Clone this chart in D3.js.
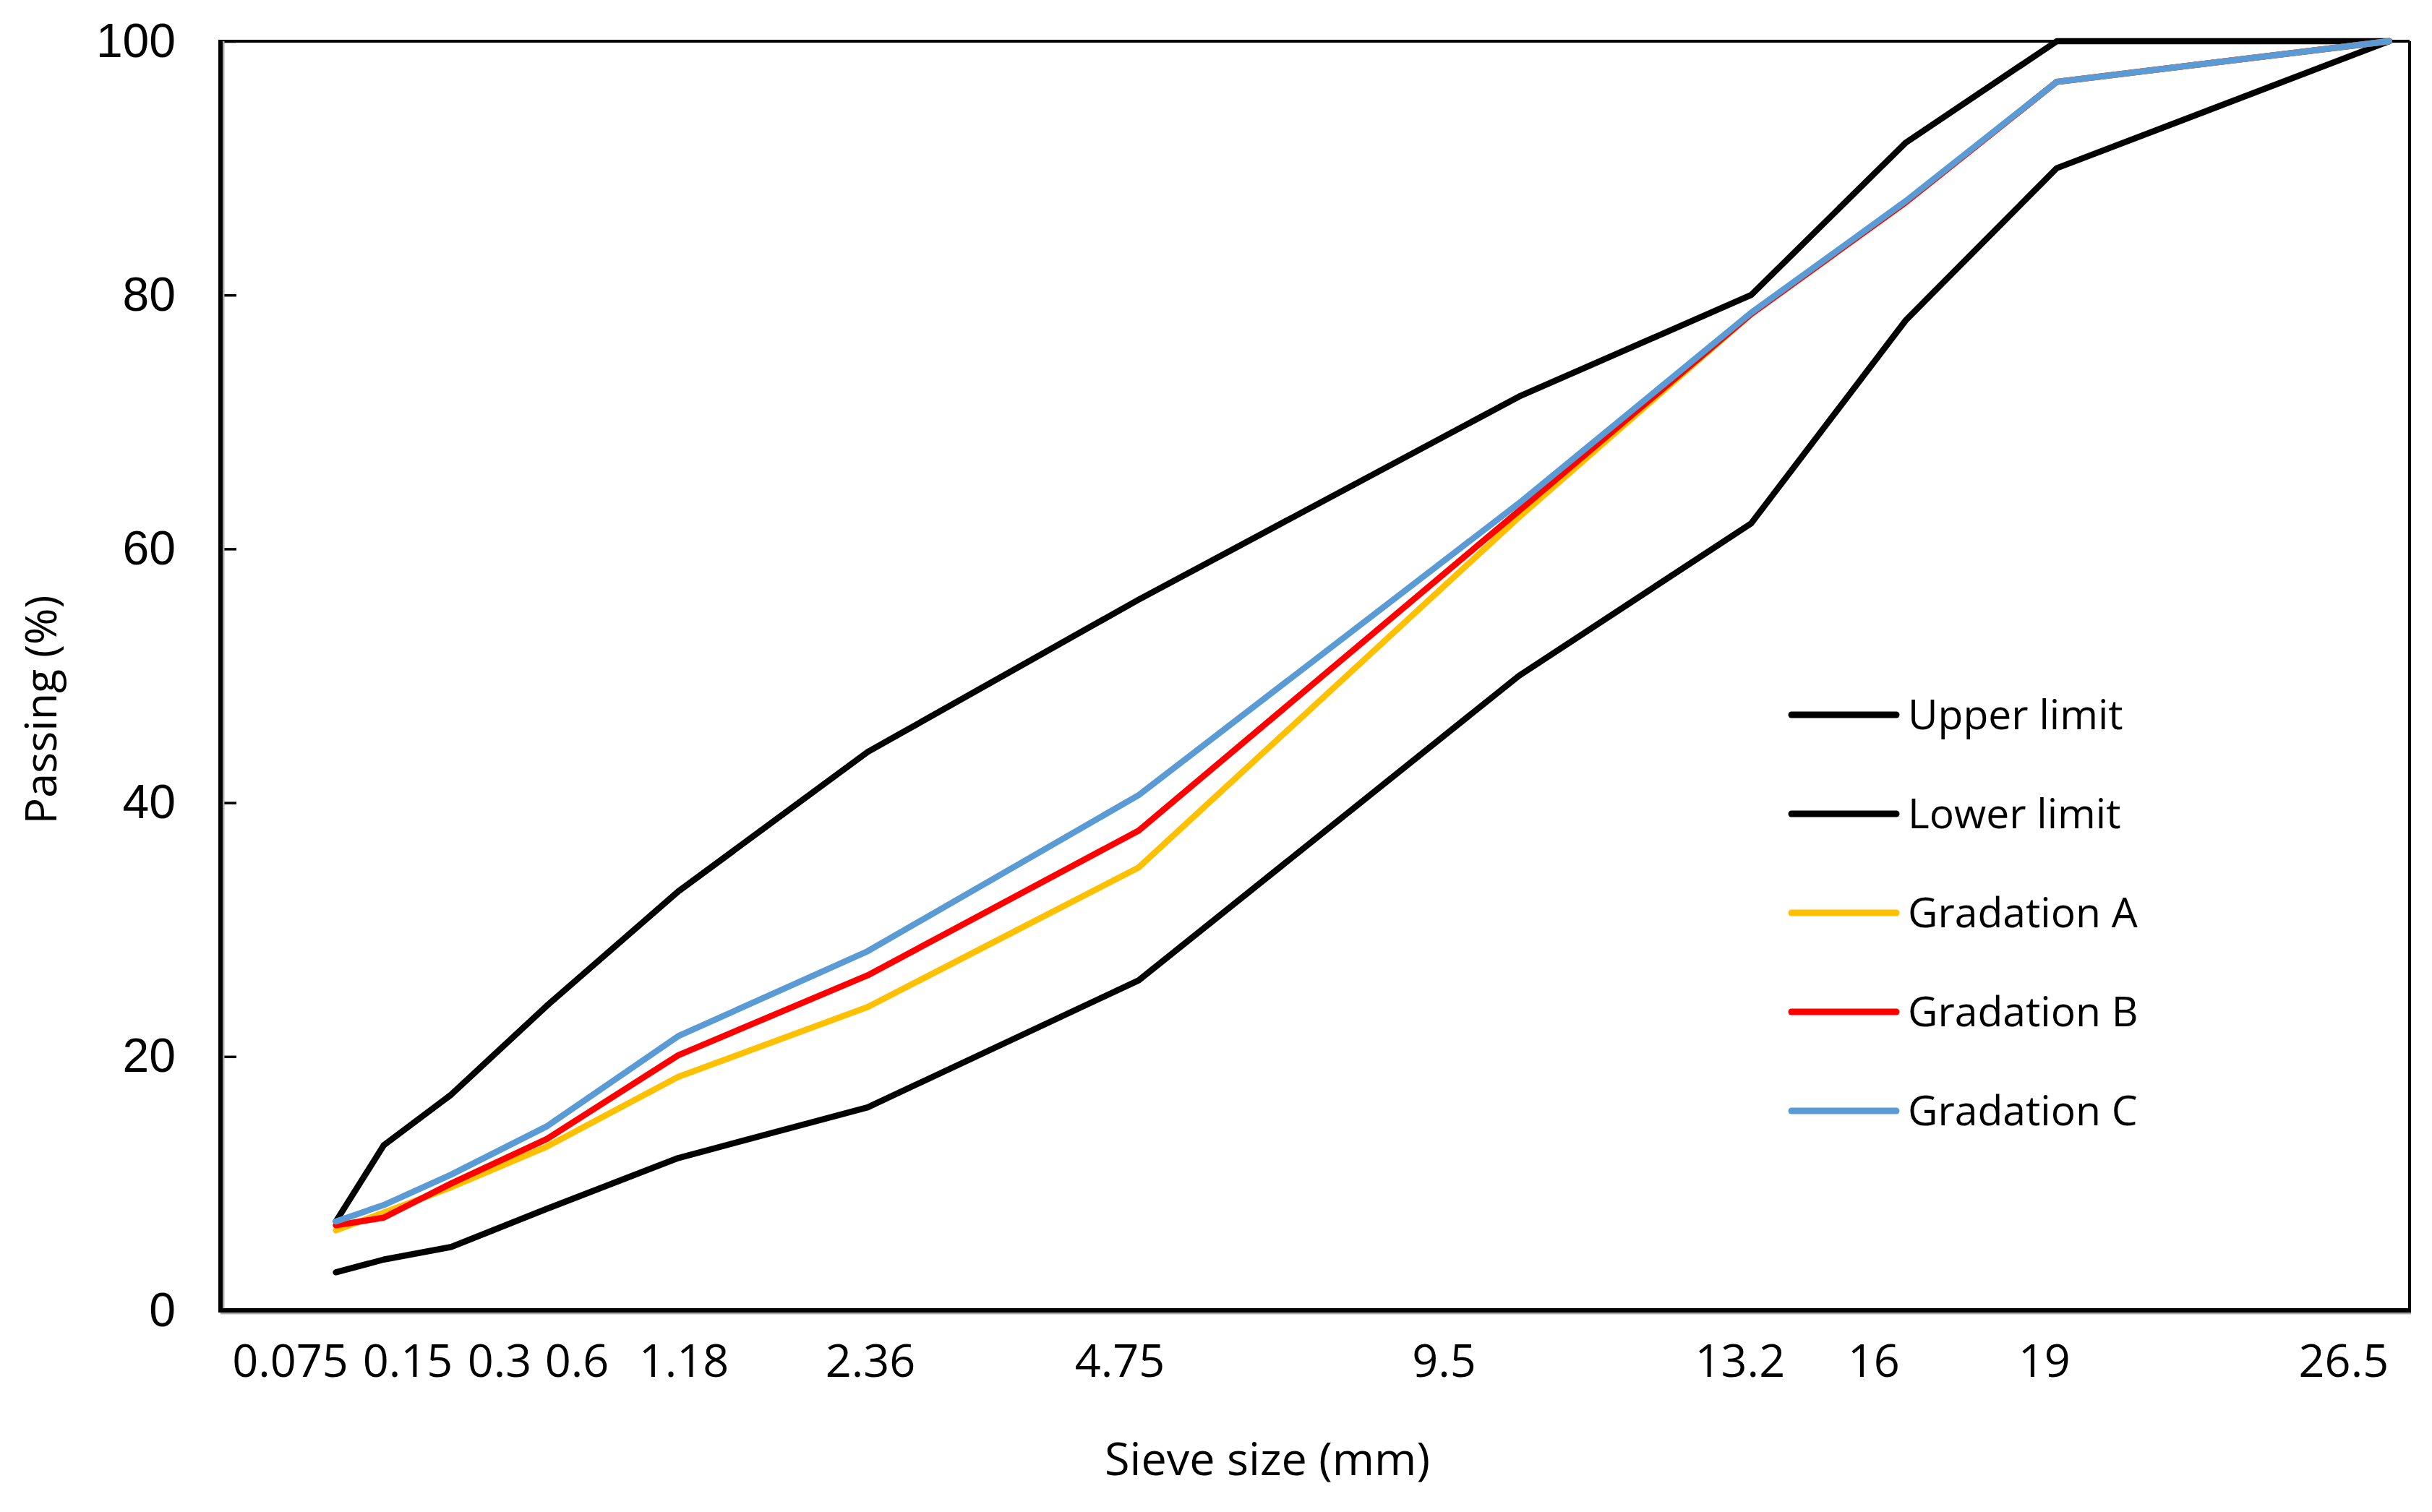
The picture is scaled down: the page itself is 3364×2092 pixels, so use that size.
<!DOCTYPE html>
<html>
<head>
<meta charset="utf-8">
<script src="https://cdn.jsdelivr.net/npm/d3@7"></script>
<style>
  body { margin: 0; background: #fff; }
  text { fill: #000; }
</style>
</head>
<body>
<div id="chart"></div>
<script>
// sieve sizes (mm) and passing percentages
const sieveSizes = [0.075, 0.15, 0.3, 0.6, 1.18, 2.36, 4.75, 9.5, 13.2, 16, 19, 26.5];
const upperLimit = [7, 13, 17, 24, 33, 44, 56, 72, 80, 92, 100, 100];
const lowerLimit = [3, 4, 5, 8, 12, 16, 26, 50, 62, 78, 90, 100];
const gradationA = [6.3, 7.7, 9.7, 12.9, 18.4, 23.9, 34.9, 62.5, 78.5, 87.3, 96.8, 100];
const gradationB = [6.7, 7.3, 10.0, 13.5, 20.1, 26.4, 37.8, 63.0, 78.5, 87.3, 96.8, 100];
const gradationC = [7.0, 8.3, 10.7, 14.5, 21.6, 28.3, 40.6, 63.6, 78.6, 87.4, 96.8, 100];

const seriesNames = ["Upper limit", "Lower limit", "Gradation A", "Gradation B", "Gradation C"];
const seriesColors = ["#000000", "#000000", "#FFC000", "#FF0000", "#5B9BD5"];

// x labels are hand placed text boxes in the original; anchor values in mm
const xTickLabels = ["0.075", "0.15", "0.3", "0.6", "1.18", "2.36", "4.75", "9.5", "13.2", "16", "19", "26.5"];
const xLabelAt = [0.0274, 0.1975, 0.4388, 0.7157, 1.210, 2.380, 4.557, 8.435, 13.01, 15.40, 18.74, 25.40];
const yTicks = [0, 20, 40, 60, 80, 100];

const width = 3364, height = 2092;
const plot = { left: 305, right: 3333, top: 57, bottom: 1813 };

const svg = d3.select("#chart").append("svg")
    .attr("width", width)
    .attr("height", height);

svg.append("rect").attr("width", width).attr("height", height).attr("fill", "#fff");

// sieve sizes on a square-root (0.5 power) axis
const x = d3.scaleSqrt().domain([0, 27]).range([plot.left, plot.right]);
const y = d3.scaleLinear().domain([0, 100]).range([plot.bottom, plot.top]);

// y axis with inward ticks
const yAxis = svg.append("g")
    .attr("transform", `translate(${plot.left},0)`)
    .call(d3.axisLeft(y).tickValues(yTicks).tickSizeInner(-22).tickSizeOuter(0).tickPadding(62));
yAxis.select(".domain").remove();
yAxis.selectAll(".tick line").attr("stroke", "#000").attr("stroke-width", 3.5);
yAxis.selectAll(".tick text")
    .style("font-family", "'Liberation Sans', Arial, sans-serif")
    .style("font-size", "66px")
    .attr("fill", "#000");

// x labels
svg.append("g").selectAll("text")
    .data(xTickLabels)
    .enter().append("text")
    .attr("x", (d, i) => x(xLabelAt[i]))
    .attr("y", 1905)
    .attr("text-anchor", "middle")
    .style("font-family", "'Open Sans', sans-serif")
    .style("font-size", "63px")
    .text(d => d);

// frame: thin top/right, thick left/bottom with a faint shadow
svg.append("line").attr("x1", plot.left).attr("x2", plot.right).attr("y1", plot.top).attr("y2", plot.top)
    .attr("stroke", "#000").attr("stroke-width", 4);
svg.append("line").attr("x1", plot.right).attr("x2", plot.right).attr("y1", plot.top).attr("y2", plot.bottom)
    .attr("stroke", "#000").attr("stroke-width", 4);
svg.append("line").attr("x1", plot.left + 4).attr("x2", plot.left + 4).attr("y1", plot.top).attr("y2", plot.bottom)
    .attr("stroke", "#aaa").attr("stroke-width", 3);
svg.append("line").attr("x1", plot.left).attr("x2", plot.right + 2).attr("y1", plot.bottom + 4).attr("y2", plot.bottom + 4)
    .attr("stroke", "#aaa").attr("stroke-width", 3);
svg.append("line").attr("x1", plot.left).attr("x2", plot.left).attr("y1", plot.top - 2).attr("y2", plot.bottom + 3)
    .attr("stroke", "#000").attr("stroke-width", 6);
svg.append("line").attr("x1", plot.left - 3).attr("x2", plot.right + 2).attr("y1", plot.bottom).attr("y2", plot.bottom)
    .attr("stroke", "#000").attr("stroke-width", 6);

// series lines
const allSeries = [upperLimit, lowerLimit, gradationA, gradationB, gradationC];
const line = d3.line()
    .x((d, i) => x(sieveSizes[i]))
    .y(d => y(d));

svg.append("g").selectAll("path")
    .data(allSeries)
    .enter().append("path")
    .attr("d", line)
    .attr("fill", "none")
    .attr("stroke", (d, i) => seriesColors[i])
    .attr("stroke-width", 8.5)
    .attr("stroke-linejoin", "round")
    .attr("stroke-linecap", "round");

// legend
const legend = svg.append("g").attr("transform", "translate(2478,989)");
const rows = legend.selectAll("g")
    .data(seriesNames)
    .enter().append("g")
    .attr("transform", (d, i) => `translate(0,${i * 137})`);
rows.append("line")
    .attr("x1", 0).attr("x2", 145)
    .attr("stroke", (d, i) => seriesColors[i])
    .attr("stroke-width", 9)
    .attr("stroke-linecap", "round");
rows.append("text")
    .attr("x", 161)
    .attr("dy", "0.35em")
    .style("font-family", "'Open Sans', sans-serif")
    .style("font-size", "57px")
    .text(d => d);

// axis titles
svg.append("text")
    .attr("x", 1753)
    .attr("y", 2041)
    .attr("text-anchor", "middle")
    .style("font-family", "'Open Sans', sans-serif")
    .style("font-size", "63px")
    .text("Sieve size (mm)");

svg.append("text")
    .attr("transform", "translate(78,982) rotate(-90)")
    .attr("text-anchor", "middle")
    .style("font-family", "'Open Sans', sans-serif")
    .style("font-size", "61px")
    .text("Passing (%)");
</script>
</body>
</html>
